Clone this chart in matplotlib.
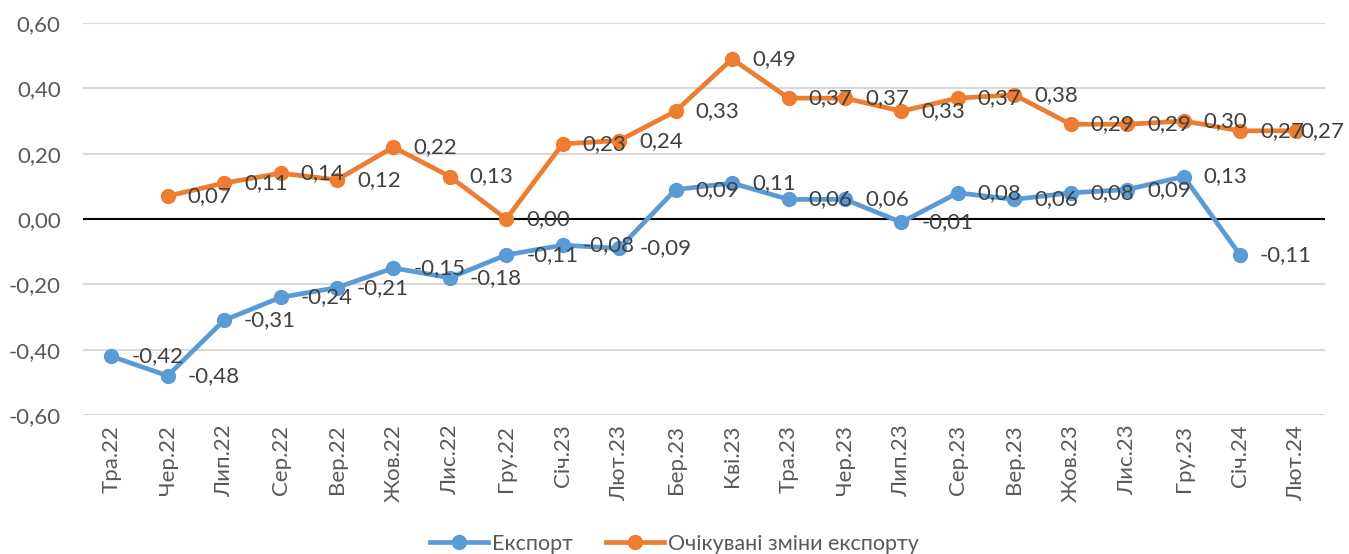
import numpy as np
import matplotlib
matplotlib.use("Agg")
import matplotlib.pyplot as plt

plt.rcParams['font.family'] = ['Lato', 'DejaVu Sans']

months = ['Тра.22', 'Чер.22', 'Лип.22', 'Сер.22', 'Вер.22', 'Жов.22', 'Лис.22',
          'Гру.22', 'Січ.23', 'Лют.23', 'Бер.23', 'Кві.23', 'Тра.23', 'Чер.23',
          'Лип.23', 'Сер.23', 'Вер.23', 'Жов.23', 'Лис.23', 'Гру.23', 'Січ.24',
          'Лют.24']
export = [-0.42, -0.48, -0.31, -0.24, -0.21, -0.15, -0.18, -0.11, -0.08, -0.09,
          0.09, 0.11, 0.06, 0.06, -0.01, 0.08, 0.06, 0.08, 0.09, 0.13, -0.11, None]
expected = [None, 0.07, 0.11, 0.14, 0.12, 0.22, 0.13, 0.00, 0.23, 0.24,
            0.33, 0.49, 0.37, 0.37, 0.33, 0.37, 0.38, 0.29, 0.29, 0.30, 0.27, 0.27]
yticks = [-0.6, -0.4, -0.2, 0.0, 0.2, 0.4, 0.6]

blue = '#5B9BD5'
orange = '#ED7D31'

fig = plt.figure(figsize=(13.49, 5.54), dpi=100)
ax = fig.add_axes([0.0615, 0.2509, 0.9205, 0.7076])

x = np.arange(len(months))
ex = np.array([np.nan if v is None else v for v in export])
ox = np.array([np.nan if v is None else v for v in expected])

ax.plot(x, ex, color=blue, lw=3.4, marker='o', ms=10, label='Експорт', zorder=3)
ax.plot(x, ox, color=orange, lw=3.4, marker='o', ms=10,
        label='Очікувані зміни експорту', zorder=3)

# data labels to the right of each point (last one squeezed in at the edge)
for series in (ex, ox):
    for i, v in enumerate(series):
        if np.isnan(v):
            continue
        dx = 4 if i == len(series) - 1 else 20
        ax.annotate(('%.2f' % v).replace('.', ','), (i, v), xytext=(dx, 0),
                    textcoords='offset pixels', va='center', ha='left',
                    fontsize=16, color='#404040', zorder=4)

ax.set_xlim(-0.5, len(months) - 0.5)
ax.set_ylim(-0.6, 0.6)
ax.set_yticks(yticks)
ax.set_yticklabels([('%.2f' % t).replace('.', ',') for t in yticks])
ax.set_xticks(x)
ax.set_xticklabels(months, rotation=90)
ax.tick_params(axis='both', length=0, labelsize=16, labelcolor='#595959')
ax.tick_params(axis='y', pad=16)
ax.tick_params(axis='x', pad=7)

ax.grid(axis='y', color='#D9D9D9', lw=1.5)
ax.set_axisbelow(True)
ax.axhline(0, color='black', lw=1.5, zorder=2)
for s in ax.spines.values():
    s.set_visible(False)

fig.legend(loc='lower center', bbox_to_anchor=(0.5, -0.035), ncol=2,
           frameon=False, fontsize=15.5, handlelength=2.7, columnspacing=1.5,
           handletextpad=0.2, labelcolor='#595959')

fig.savefig('out.png', dpi=100)
